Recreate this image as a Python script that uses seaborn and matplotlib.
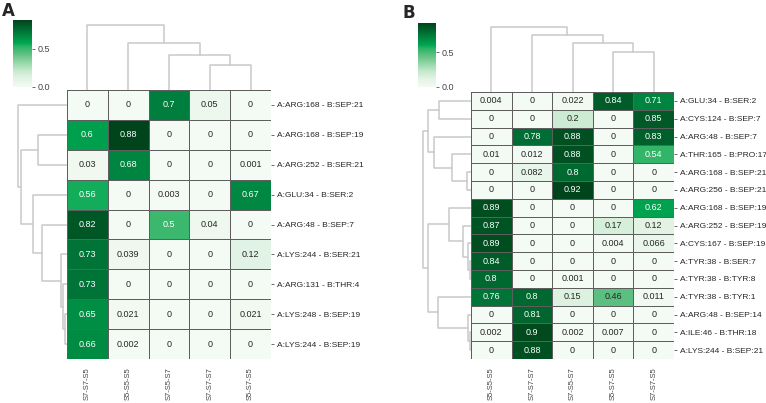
import numpy as np
import pandas as pd
import seaborn as sns
import matplotlib.pyplot as plt
from matplotlib.colors import LinearSegmentedColormap

# panel A
rows_a = ["A:ARG:168 - B:SEP:21", "A:ARG:168 - B:SEP:19", "A:ARG:252 - B:SER:21",
          "A:GLU:34 - B:SER:2", "A:ARG:48 - B:SEP:7", "A:LYS:244 - B:SER:21",
          "A:ARG:131 - B:THR:4", "A:LYS:248 - B:SEP:19", "A:LYS:244 - B:SEP:19"]
cols_a = ["S7-S7-S5", "S5-S5-S5", "S7-S5-S7", "S7-S7-S7", "S5-S7-S5"]
vals_a = [[0, 0, 0.7, 0.05, 0],
          [0.6, 0.88, 0, 0, 0],
          [0.03, 0.68, 0, 0, 0.001],
          [0.56, 0, 0.003, 0, 0.67],
          [0.82, 0, 0.5, 0.04, 0],
          [0.73, 0.039, 0, 0, 0.12],
          [0.73, 0, 0, 0, 0],
          [0.65, 0.021, 0, 0, 0.021],
          [0.66, 0.002, 0, 0, 0]]
# merges (child, child, distance); ids >= n refer to earlier merges
row_tree_a = [(7, 8, 1.7), (6, 9, 3.7), (5, 10, 6.3), (4, 11, 24.7), (3, 12, 33.7),
              (1, 2, 28.7), (14, 13, 46.3), (0, 15, 48.7)]
col_tree_a = [(3, 4, 25), (2, 5, 35), (1, 6, 47), (0, 7, 65)]

# panel B
rows_b = ["A:GLU:34 - B:SER:2", "A:CYS:124 - B:SEP:7", "A:ARG:48 - B:SEP:7",
          "A:THR:165 - B:PRO:17", "A:ARG:168 - B:SEP:21", "A:ARG:256 - B:SEP:21",
          "A:ARG:168 - B:SEP:19", "A:ARG:252 - B:SEP:19", "A:CYS:167 - B:SEP:19",
          "A:TYR:38 - B:SER:7", "A:TYR:38 - B:TYR:8", "A:TYR:38 - B:TYR:1",
          "A:ARG:48 - B:SEP:14", "A:ILE:46 - B:THR:18", "A:LYS:244 - B:SEP:21"]
cols_b = ["S5-S5-S5", "S7-S7-S7", "S7-S5-S7", "S5-S7-S5", "S7-S7-S5"]
vals_b = [[0.004, 0, 0.022, 0.84, 0.71],
          [0, 0, 0.2, 0, 0.85],
          [0, 0.78, 0.88, 0, 0.83],
          [0.01, 0.012, 0.88, 0, 0.54],
          [0, 0.082, 0.8, 0, 0],
          [0, 0, 0.92, 0, 0],
          [0.89, 0, 0, 0, 0.62],
          [0.87, 0, 0, 0.17, 0.12],
          [0.89, 0, 0, 0.004, 0.066],
          [0.84, 0, 0, 0, 0],
          [0.8, 0, 0.001, 0, 0],
          [0.76, 0.8, 0.15, 0.46, 0.011],
          [0, 0.81, 0, 0, 0],
          [0.002, 0.9, 0.002, 0.007, 0],
          [0, 0.88, 0, 0, 0]]
row_tree_b = [(0, 1, 31.7), (4, 5, 4.3), (3, 16, 19.3), (2, 17, 36.7), (15, 18, 43.5),
              (9, 10, 1.0), (8, 20, 3.3), (7, 21, 7.7), (6, 22, 21.7),
              (13, 14, 1.3), (12, 24, 3.5), (11, 25, 32.7), (23, 26, 43.0),
              (19, 27, 48.3)]
col_tree_b = [(3, 4, 40), (2, 5, 49), (1, 6, 57), (0, 7, 65)]

sns.set_theme(style="ticks")
plt.rcParams['font.family'] = ['Liberation Sans', 'DejaVu Sans']

cmap = LinearSegmentedColormap.from_list("grn", [
    (0.0, "#f4faf4"), (0.15, "#dff2e2"), (0.25, "#c3e8cb"), (0.5, "#5cc07f"),
    (0.6, "#2db466"), (0.66, "#00a651"), (0.8, "#007d3c"), (1.0, "#00441b")])

W, H = 766, 403
fig = plt.figure(figsize=(W / 100, H / 100), dpi=100)


def px_axes(x0, y0, x1, y1):
    return fig.add_axes([x0 / W, 1 - y1 / H, (x1 - x0) / W, (y1 - y0) / H])


def draw_tree(ax, tree, n, side):
    pos = {i: i + 0.5 for i in range(n)}
    dist = {i: 0.0 for i in range(n)}
    for k, (a, b, h) in enumerate(tree):
        p = [pos[a], pos[a], pos[b], pos[b]]
        d = [dist[a], h, h, dist[b]]
        if side == 'top':
            ax.plot(p, d, color='#c9c9c9', lw=1.1)
        else:
            ax.plot(d, p, color='#c9c9c9', lw=1.1)
        pos[n + k] = (pos[a] + pos[b]) / 2
        dist[n + k] = h
    top = max(t[2] for t in tree) * 1.05
    if side == 'top':
        ax.set_xlim(0, n)
        ax.set_ylim(0, top)
    else:
        ax.set_ylim(n, 0)
        ax.set_xlim(top, 0)
    ax.axis('off')


def panel(rows, cols, vals, row_tree, col_tree, box, label):
    x0, y0, x1, y1, cb, lab = box
    df = pd.DataFrame(vals, index=rows, columns=cols)
    top = max(t[2] for t in col_tree) * 1.05
    left = max(t[2] for t in row_tree) * 1.05

    ax = px_axes(x0, y0, x1, y1)
    cax = px_axes(*cb)
    sns.heatmap(df, ax=ax, cbar_ax=cax, cmap=cmap, vmin=0, vmax=df.values.max(),
                annot=True, fmt=".2g", annot_kws={"size": 6.5},
                linewidths=0.6, linecolor='#5e5e5e')
    ax.yaxis.tick_right()
    ax.tick_params(axis='y', rotation=0, labelsize=6, length=2.5, width=0.6,
                   color='#555555', pad=1.5)
    ax.tick_params(axis='x', rotation=90, labelsize=5.5, length=0, pad=6,
                   labelcolor='#444444')
    ax.set_xlabel('')
    ax.set_ylabel('')

    cax.set_yticks([0, 0.5])
    cax.set_yticklabels(['0.0', '0.5'])
    cax.tick_params(labelsize=6.5, length=2.5, width=0.6, color='#555555',
                    labelcolor='#444444', pad=1.5)

    dtop = px_axes(x0, y0 - top, x1, y0)
    draw_tree(dtop, col_tree, len(cols), 'top')
    dleft = px_axes(x0 - left, y0, x0, y1)
    draw_tree(dleft, row_tree, len(rows), 'left')

    fig.text(lab[0] / W, 1 - lab[1] / H, label, fontsize=12, fontweight='bold',
             family='DejaVu Sans', va='top', ha='left')


panel(rows_a, cols_a, vals_a, row_tree_a, col_tree_a,
      (67, 90, 271, 359, (13, 20, 32, 87), (2, 2)), "A")
panel(rows_b, cols_b, vals_b, row_tree_b, col_tree_b,
      (471, 92, 674, 359, (418, 23, 436, 87), (403, 4)), "B")

fig.savefig("out.png", dpi=100)
